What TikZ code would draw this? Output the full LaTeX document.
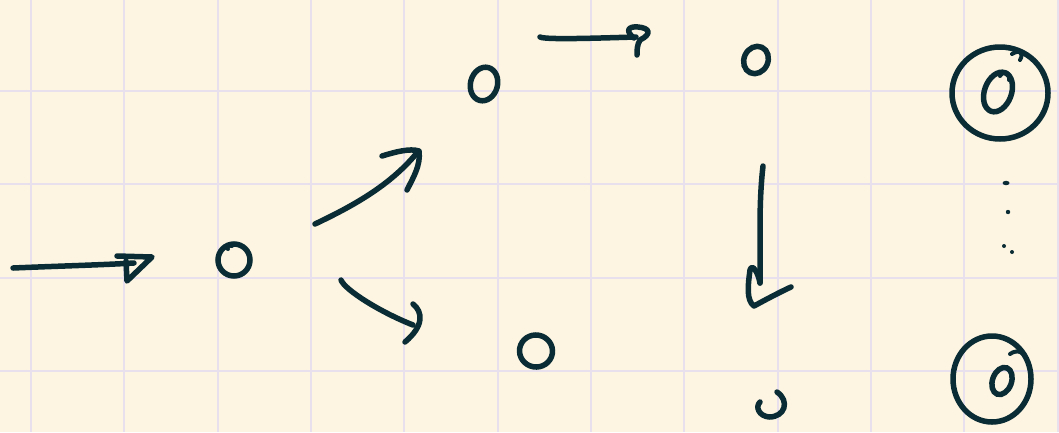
\documentclass[tikz,border=0pt]{standalone}
\usetikzlibrary{shapes.geometric,calc}
\definecolor{paper}{RGB}{253,245,226}
\definecolor{gridc}{RGB}{232,224,236}
\definecolor{inkc}{RGB}{10,44,52}
\tikzset{
  ink/.style={draw=inkc, line width=5.5pt, line cap=round, line join=round},
  thinink/.style={draw=inkc, line width=4pt, line cap=round, line join=round},
  blob/.style={ellipse, draw=inkc, line width=5.5pt, inner sep=0pt, outer sep=0pt},
  gridline/.style={draw=gridc, line width=1.8pt},
}
\begin{document}
\begin{tikzpicture}[x=1pt,y=-1pt]
\fill[paper] (0,0) rectangle (1059,432);
\useasboundingbox (0,0) rectangle (1059,432);
% grid
\foreach \gx in {31,124.3,217.6,311,404.3,497.6,591,684.3,777.6,871,964.3,1057.6}
  \draw[gridline] (\gx,0) -- (\gx,432);
\foreach \gy in {91,184.3,277.6,371}
  \draw[gridline] (0,\gy) -- (1059,\gy);
% states
\node[blob, minimum width=32pt, minimum height=32pt] (q0) at (234,260) {};
\node[blob, minimum width=27pt, minimum height=34pt, rotate=-15] (q1) at (484,84) {};
\node[blob, minimum width=24pt, minimum height=28pt, rotate=-25] (q2) at (756,60) {};
\node[blob, minimum width=33pt, minimum height=32pt, rotate=-10] (q3) at (536,351) {};
\coordinate (q4) at (772,405);
\node[blob, minimum width=96pt, minimum height=92pt] (f1) at (1000,93) {};
\node[blob, minimum width=27pt, minimum height=41pt, rotate=-20] (f1i) at (998,92) {};
\node[blob, minimum width=78pt, minimum height=86pt] (f2) at (992,379) {};
\node[blob, minimum width=19pt, minimum height=28pt, rotate=-20] (f2i) at (1002,381) {};
% small flourishes on the drawn circles
\draw[thinink] (1012,54) .. controls (1020,49) and (1024,53) .. (1020,60);
\draw[thinink] (1000,76) .. controls (1004,70) and (1010,71) .. (1009,80);
\draw[thinink] (1010,354) .. controls (1016,350) and (1020,351) .. (1023,354);
\draw[thinink] (232,246) .. controls (226,244) and (224,247) .. (228,249);
% partial circle
\draw[ink] ($(q4)+(5,-13)$) .. controls ($(q4)+(18,-4)$) and ($(q4)+(13,12)$) .. ($(q4)+(-3,12)$) .. controls ($(q4)+(-13,11)$) and ($(q4)+(-17,2)$) .. ($(q4)+(-12,-3)$);
% dots
\fill[inkc] (1006,183) ellipse (3.5pt and 2.2pt);
\fill[inkc] (1008,212) circle (2.2pt);
\fill[inkc] (1004,246) circle (2pt);
\fill[inkc] (1012,252) circle (2pt);
% arrow into q0
\coordinate (s0) at (13,268);
\coordinate (e0) at (134,263);
\draw[ink] (s0) .. controls (60,266) and (100,265) .. (e0);
\draw[ink] (117,256) -- (152,257) -- (127,281) -- (126,261);
% arrow up-right
\coordinate (s1) at (315,224);
\coordinate (e1) at (416,154);
\draw[ink] (s1) .. controls (355,205) and (390,185) .. (e1);
\draw[ink] (382,156) .. controls (395,152) and (410,148) .. (419,151) .. controls (421,165) and (413,178) .. (407,190);
% arrow down-right
\coordinate (s2) at (341,280);
\coordinate (e2) at (413,325);
\draw[ink] (s2) .. controls (345,290) and (380,312) .. (e2);
\draw[ink] (413,304) .. controls (423,312) and (424,326) .. (405,342);
% arrow top
\coordinate (s3) at (540,37);
\coordinate (e3) at (636,37);
\draw[ink] (s3) .. controls (545,40) and (600,38) .. (e3);
\draw[ink] (634,38) .. controls (625,31) and (628,26) .. (638,27) .. controls (650,28) and (652,34) .. (640,40) .. controls (637,45) and (637,50) .. (637,55);
% arrow down
\coordinate (s4) at (763,166);
\coordinate (e4) at (760,283);
\draw[ink] (s4) .. controls (758,210) and (761,250) .. (e4);
\draw[ink] (e4) .. controls (758,272) and (752,263) .. (750,270) .. controls (748,285) and (746,300) .. (754,306) .. controls (765,300) and (780,292) .. (791,287);
\end{tikzpicture}
\end{document}
